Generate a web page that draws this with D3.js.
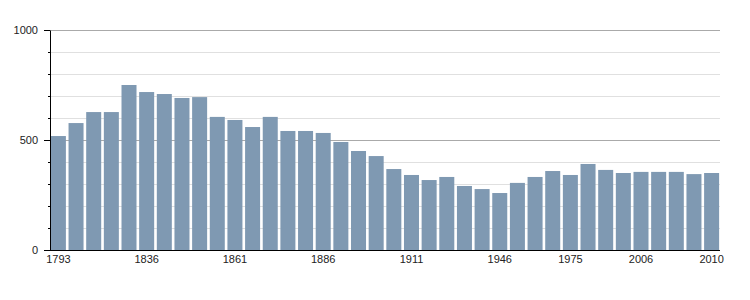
<!DOCTYPE html>
<html>
<head>
<meta charset="utf-8">
<script src="https://cdn.jsdelivr.net/npm/d3@7"></script>
<style>
  body { margin: 0; background: #fff; }
  text { font-family: "Liberation Sans", Arial, sans-serif; font-size: 11px; fill: #222; }
</style>
</head>
<body>
<div id="chart"></div>
<script>
var years = ["1793","1800","1806","1821","1831","1836","1841","1846","1851","1856",
             "1861","1866","1872","1876","1881","1886","1891","1896","1901","1906",
             "1911","1921","1926","1931","1936","1946","1954","1962","1968","1975",
             "1982","1990","1999","2006","2007","2008","2009","2010"];
var population = [518, 577, 627, 627, 750, 718, 709, 691, 695, 605,
                  591, 559, 605, 541, 541, 532, 491, 450, 427, 368,
                  341, 318, 332, 291, 277, 259, 305, 332, 359, 341,
                  391, 364, 350, 355, 355, 355, 345, 350];
var yearLabels = ["1793","1836","1861","1886","1911","1946","1975","2006","2010"];
var majorTicks = [0, 500, 1000];
var minorTicks = [100, 200, 300, 400, 600, 700, 800, 900];

var width = 750, height = 300,
    margin = {left: 50, top: 30, right: 30, bottom: 50};

var svg = d3.select("#chart").append("svg")
  .attr("width", width)
  .attr("height", height);

var x = d3.scaleBand()
  .domain(years)
  .range([margin.left, width - margin.right])
  .paddingInner(0.15)
  .paddingOuter(0.05);

var y = d3.scaleLinear()
  .domain([0, 1000])
  .range([height - margin.bottom, margin.top]);

// gridlines, light every 100, darker at labelled values
svg.append("g").selectAll("line.minor")
  .data(minorTicks)
  .enter().append("line")
  .attr("x1", x.range()[0]).attr("x2", x.range()[1])
  .attr("y1", function(d) { return y(d) + 0.5; })
  .attr("y2", function(d) { return y(d) + 0.5; })
  .style("stroke", "#e0e0e0");

svg.append("g").selectAll("line.major")
  .data(majorTicks.filter(function(d) { return d > 0; }))
  .enter().append("line")
  .attr("x1", x.range()[0]).attr("x2", x.range()[1])
  .attr("y1", function(d) { return y(d) + 0.5; })
  .attr("y2", function(d) { return y(d) + 0.5; })
  .style("stroke", "#aaaaaa");

// bars
svg.append("g").selectAll("rect")
  .data(years)
  .enter().append("rect")
  .attr("x", function(d) { return x(d); })
  .attr("width", x.bandwidth())
  .attr("y", function(d, i) { return y(population[i]); })
  .attr("height", function(d, i) { return y(0) - y(population[i]); })
  .style("fill", "#7f99b2");

// y axis: minor ticks then labelled ticks
svg.append("g")
  .attr("transform", "translate(" + margin.left + ",0)")
  .call(d3.axisLeft(y).tickValues(minorTicks).tickSize(2).tickFormat(""))
  .call(function(g) { g.select(".domain").remove(); });

svg.append("g")
  .attr("transform", "translate(" + margin.left + ",0)")
  .call(d3.axisLeft(y).tickValues(majorTicks).tickFormat(d3.format("d"))
    .tickSize(6).tickPadding(6).tickSizeOuter(0))
  .call(function(g) {
    g.selectAll("text").style("font-family", "'Liberation Sans', Arial, sans-serif").style("font-size", "11px").attr("fill", "#222");
  });

// x axis
svg.append("g")
  .attr("transform", "translate(0," + y(0) + ")")
  .call(d3.axisBottom(x).tickValues(yearLabels).tickSize(0).tickPadding(5))
  .call(function(g) {
    g.select(".domain").remove();
    g.selectAll("text").style("font-family", "'Liberation Sans', Arial, sans-serif").style("font-size", "11px").attr("fill", "#222");
  });

svg.append("line")
  .attr("x1", x.range()[0]).attr("x2", x.range()[1])
  .attr("y1", y(0) + 0.5).attr("y2", y(0) + 0.5)
  .style("stroke", "#000");
</script>
</body>
</html>
